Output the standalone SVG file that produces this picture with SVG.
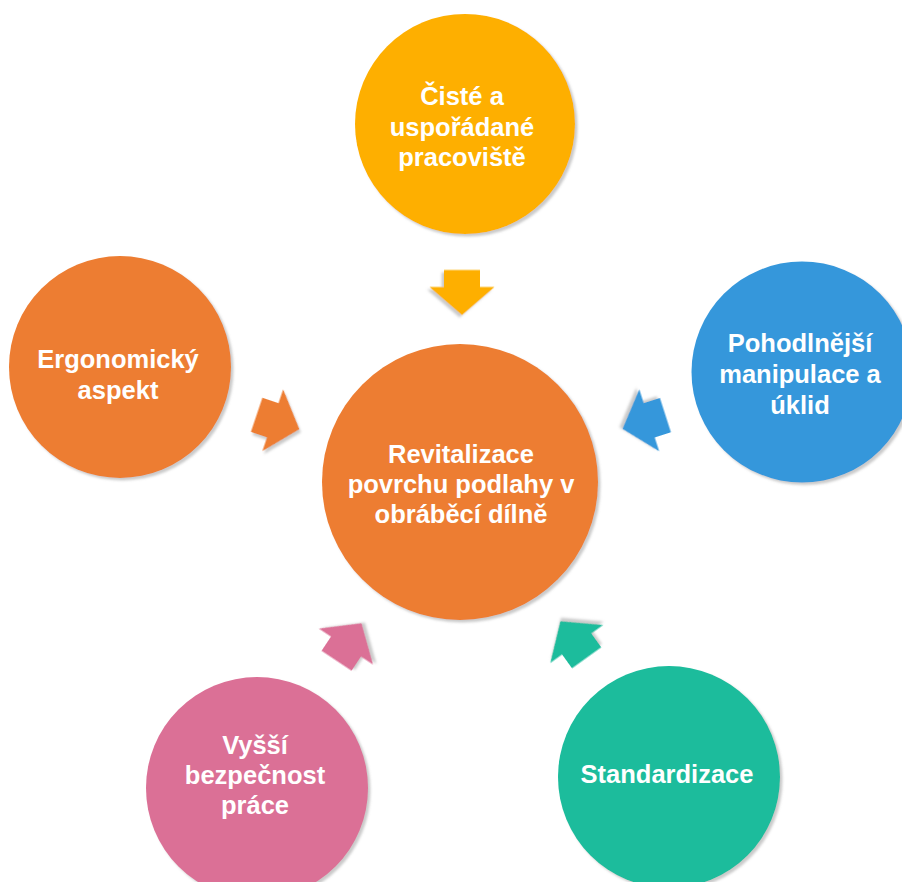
<svg xmlns="http://www.w3.org/2000/svg" xmlns:xlink="http://www.w3.org/1999/xlink" width="902" height="882" viewBox="0 0 902 882">
  <style>
    .lbl { font-family: "Liberation Sans", Arial, sans-serif; font-weight: bold; font-size: 25.5px; fill: #ffffff; text-anchor: middle; }
    .orange { fill: #ED7D31; }
    .gold { fill: #FEAF00; }
    .blue { fill: #3597DB; }
    .pink { fill: #DB7096; }
    .teal { fill: #1ABC9C; }
    .soft { filter: url(#shadow); }
  </style>
  <defs>
    <filter id="shadow" x="-20%" y="-20%" width="140%" height="140%">
      <feDropShadow dx="2.5" dy="2.5" stdDeviation="1.2" flood-color="#8a8a8a" flood-opacity="0.45"/>
    </filter>
    <!-- block arrow pointing along +x, centred on the origin -->
    <polygon id="arrow" points="-22.5,-18 -5.5,-18 -5.5,-32.5 22.5,0 -5.5,32.5 -5.5,18 -22.5,18"/>
  </defs>

  <rect width="902" height="882" fill="#ffffff"/>

  <!-- arrows converging on the central circle -->
  <g id="connectors">
    <use xlink:href="#arrow" class="gold soft" transform="translate(462,292.5) rotate(90)"/>
    <use xlink:href="#arrow" class="orange soft" transform="translate(278,422) rotate(18.6)"/>
    <use xlink:href="#arrow" class="blue soft" transform="translate(644,422) rotate(162.2)"/>
    <use xlink:href="#arrow" class="pink soft" transform="translate(349,642) rotate(-56.4)"/>
    <use xlink:href="#arrow" class="teal soft" transform="translate(573.5,639.5) rotate(-125.7)"/>
  </g>

  <g id="center">
    <circle class="orange soft" cx="460" cy="482" r="138"/>
    <text class="lbl" x="461" y="463">Revitalizace</text>
    <text class="lbl" x="461" y="493">povrchu podlahy v</text>
    <text class="lbl" x="461" y="523">obráběcí dílně</text>
  </g>

  <g id="clean-workplace">
    <circle class="gold soft" cx="465" cy="124" r="110"/>
    <text class="lbl" x="462" y="105">Čisté a</text>
    <text class="lbl" x="462" y="136">uspořádané</text>
    <text class="lbl" x="462" y="166">pracoviště</text>
  </g>

  <g id="ergonomics">
    <circle class="orange soft" cx="120" cy="367" r="111"/>
    <text class="lbl" x="118" y="368">Ergonomický</text>
    <text class="lbl" x="118" y="399">aspekt</text>
  </g>

  <g id="handling">
    <circle class="blue soft" cx="802" cy="372" r="110.5"/>
    <text class="lbl" x="800" y="352">Pohodlnější</text>
    <text class="lbl" x="800" y="383">manipulace a</text>
    <text class="lbl" x="800" y="414">úklid</text>
  </g>

  <g id="safety">
    <circle class="pink soft" cx="257" cy="788" r="111"/>
    <text class="lbl" x="255" y="754">Vyšší</text>
    <text class="lbl" x="255" y="784">bezpečnost</text>
    <text class="lbl" x="255" y="814">práce</text>
  </g>

  <g id="standardization">
    <circle class="teal soft" cx="669" cy="777" r="111"/>
    <text class="lbl" x="667" y="783">Standardizace</text>
  </g>
</svg>
